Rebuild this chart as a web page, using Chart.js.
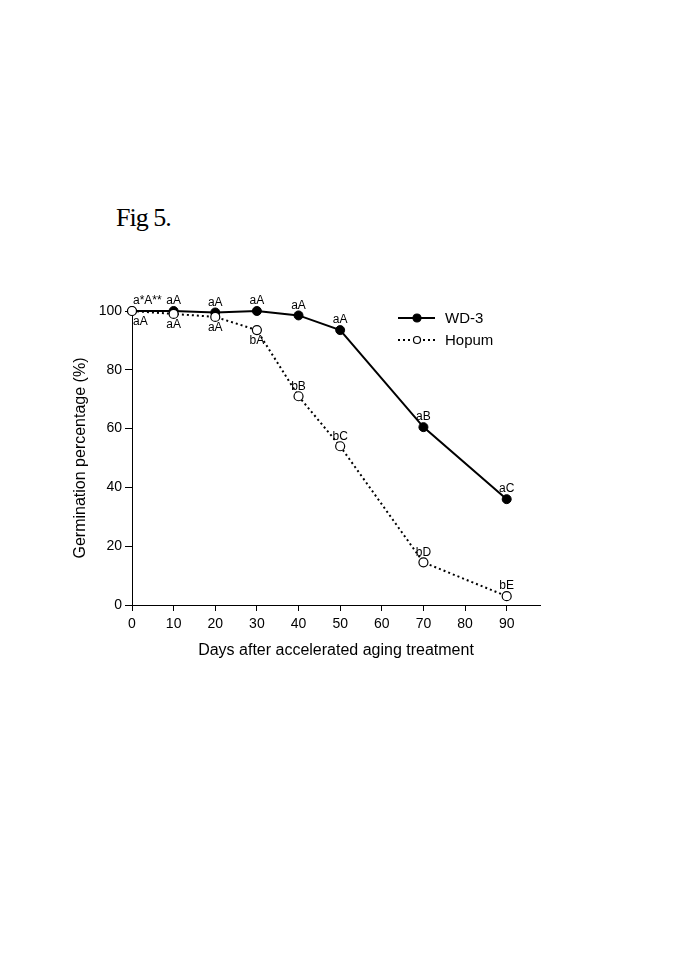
<!DOCTYPE html>
<html>
<head>
<meta charset="utf-8">
<script src="https://cdn.jsdelivr.net/npm/chart.js@4/dist/chart.umd.min.js"></script>
<style>
html,body{margin:0;padding:0;background:#fff;}
#wrap{position:relative;width:685px;height:969px;}
#fig{position:absolute;left:116px;top:203px;font-family:"Liberation Serif","DejaVu Serif",serif;font-size:26px;letter-spacing:-1px;color:#000;}
canvas{position:absolute;left:0;top:0;}
</style>
</head>
<body>
<div id="wrap">
<div id="fig">Fig 5.</div>
<canvas id="c" width="685" height="969"></canvas>
</div>
<script>
const days = [0, 10, 20, 30, 40, 50, 70, 90];
const wd3 = [100, 100, 99.5, 100, 98.5, 93.5, 60.5, 36];
const hopum = [100, 99, 98, 93.5, 71, 54, 14.5, 3];
const wd3Labels = ['a*A**', 'aA', 'aA', 'aA', 'aA', 'aA', 'aB', 'aC'];
const hopumLabels = ['aA', 'aA', 'aA', 'bA', 'bB', 'bC', 'bD', 'bE'];
const hopumLabelSide = ['below', 'below', 'below', 'below', 'above', 'above', 'above', 'above'];
const xTicks = [0, 10, 20, 30, 40, 50, 60, 70, 80, 90];
const yTicks = [0, 20, 40, 60, 80, 100];
const seriesNames = ['WD-3', 'Hopum'];

const toPts = (vals) => days.map((d, i) => ({x: d, y: vals[i]}));

const labelPlugin = {
  id: 'pointLabels',
  afterDatasetsDraw(chart) {
    const ctx = chart.ctx;
    ctx.save();
    ctx.font = '12px "Liberation Sans", Arial, sans-serif';
    ctx.fillStyle = '#000';
    const sets = [
      {meta: chart.getDatasetMeta(0), labels: wd3Labels, side: wd3Labels.map(() => 'above')},
      {meta: chart.getDatasetMeta(1), labels: hopumLabels, side: hopumLabelSide}
    ];
    sets.forEach(s => {
      s.meta.data.forEach((el, i) => {
        const txt = s.labels[i];
        let x = el.x, y = el.y;
        ctx.textAlign = i === 0 ? 'left' : 'center';
        if (i === 0) x += 1;
        if (s.side[i] === 'above') {
          ctx.textBaseline = 'bottom';
          ctx.fillText(txt, x, y - 4);
        } else {
          ctx.textBaseline = 'top';
          ctx.fillText(txt, x, y + 5);
        }
      });
    });
    ctx.restore();
  }
};

const legendPlugin = {
  id: 'customLegend',
  afterDraw(chart) {
    const ctx = chart.ctx;
    const a = chart.chartArea;
    const x0 = a.left + 266, y0 = a.top + 7;
    ctx.save();
    ctx.font = '15px "Liberation Sans", Arial, sans-serif';
    ctx.textBaseline = 'middle';
    ctx.textAlign = 'left';
    chart.data.datasets.forEach((ds, i) => {
      const y = y0 + i * 22;
      ctx.strokeStyle = '#000';
      ctx.lineWidth = ds.borderWidth;
      ctx.setLineDash(ds.borderDash || []);
      ctx.beginPath();
      ctx.moveTo(x0, y);
      ctx.lineTo(x0 + 37, y);
      ctx.stroke();
      ctx.setLineDash([]);
      ctx.beginPath();
      ctx.arc(x0 + 19, y, i === 0 ? 4 : 3.5, 0, Math.PI * 2);
      ctx.fillStyle = ds.pointBackgroundColor;
      ctx.fill();
      ctx.lineWidth = 1.2;
      ctx.stroke();
      ctx.fillStyle = '#000';
      ctx.fillText(ds.label, x0 + 47, y + 1);
    });
    ctx.restore();
  }
};

new Chart(document.getElementById('c'), {
  type: 'scatter',
  data: {
    datasets: [
      {
        label: seriesNames[0],
        data: toPts(wd3),
        showLine: true,
        borderColor: '#000',
        borderWidth: 2,
        pointBackgroundColor: '#000',
        pointBorderColor: '#000',
        pointRadius: 4.5,
        pointBorderWidth: 1,
        clip: false,
        order: 1
      },
      {
        label: seriesNames[1],
        data: toPts(hopum),
        showLine: true,
        borderColor: '#000',
        borderWidth: 2,
        borderDash: [2, 3],
        pointBackgroundColor: '#fff',
        pointBorderColor: '#000',
        pointRadius: 4.5,
        pointBorderWidth: 1.2,
        clip: false,
        order: 0
      }
    ]
  },
  options: {
    responsive: false,
    animation: false,
    devicePixelRatio: 1,
    layout: {padding: {left: 66, top: 311, right: 145, bottom: 300}},
    plugins: {legend: {display: false}, tooltip: {enabled: false}},
    scales: {
      x: {
        type: 'linear',
        min: 0,
        max: 98,
        afterBuildTicks(scale) { scale.ticks = xTicks.map(v => ({value: v})); },
        afterFit(scale) { scale.height = 64; },
        ticks: {
          color: '#000',
          font: {family: '"Liberation Sans", Arial, sans-serif', size: 14},
          padding: 5,
          maxRotation: 0,
          autoSkip: false
        },
        grid: {display: true, drawOnChartArea: false, drawTicks: true, tickLength: 6, color: '#000', lineWidth: 1},
        border: {display: true, color: '#000', width: 1},
        title: {
          display: true,
          text: 'Days after accelerated aging treatment',
          color: '#000',
          font: {family: '"Liberation Sans", Arial, sans-serif', size: 16},
          padding: {top: 4, bottom: 9}
        }
      },
      y: {
        type: 'linear',
        min: 0,
        max: 100,
        afterBuildTicks(scale) { scale.ticks = yTicks.map(v => ({value: v})); },
        afterFit(scale) { scale.width = 66; },
        ticks: {
          color: '#000',
          font: {family: '"Liberation Sans", Arial, sans-serif', size: 14},
          padding: 3,
          autoSkip: false
        },
        grid: {display: true, drawOnChartArea: false, drawTicks: true, tickLength: 7, color: '#000', lineWidth: 1},
        border: {display: true, color: '#000', width: 1},
        title: {
          display: true,
          text: 'Germination percentage (%)',
          color: '#000',
          font: {family: '"Liberation Sans", Arial, sans-serif', size: 16},
          padding: {top: 5, bottom: 4}
        }
      }
    }
  },
  plugins: [labelPlugin, legendPlugin]
});
</script>
</body>
</html>
